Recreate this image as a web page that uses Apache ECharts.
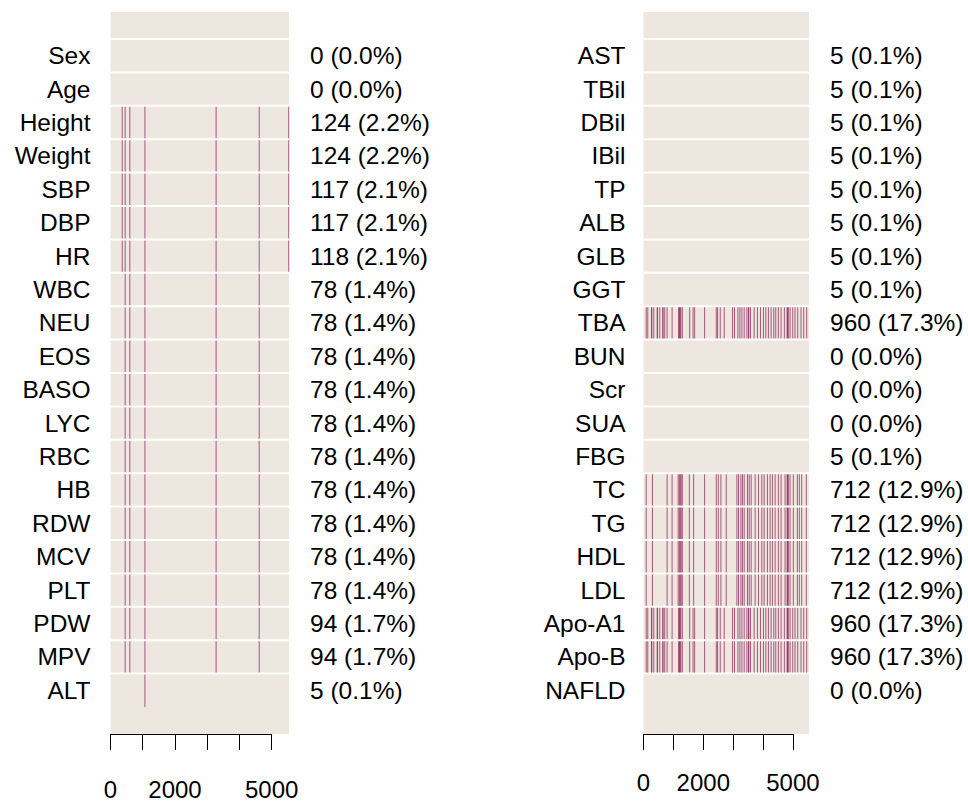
<!DOCTYPE html>
<html><head><meta charset="utf-8">
<script src="https://cdn.jsdelivr.net/npm/echarts@6/dist/echarts.min.js"></script>
<style>html,body{margin:0;padding:0;background:#fff}#c{width:968px;height:802px}</style>
</head><body><div id="c"></div>
<script>
// ---------------- data ----------------
const nObs = 5537;

const leftVars = ['Sex','Age','Height','Weight','SBP','DBP','HR','WBC','NEU','EOS','BASO','LYC','RBC','HB','RDW','MCV','PLT','PDW','MPV','ALT'];
const leftCounts = ['0 (0.0%)','0 (0.0%)','124 (2.2%)','124 (2.2%)','117 (2.1%)','117 (2.1%)','118 (2.1%)',
  '78 (1.4%)','78 (1.4%)','78 (1.4%)','78 (1.4%)','78 (1.4%)','78 (1.4%)','78 (1.4%)','78 (1.4%)','78 (1.4%)','78 (1.4%)',
  '94 (1.7%)','94 (1.7%)','5 (0.1%)'];

const rightVars = ['AST','TBil','DBil','IBil','TP','ALB','GLB','GGT','TBA','BUN','Scr','SUA','FBG','TC','TG','HDL','LDL','Apo-A1','Apo-B','NAFLD'];
const rightCounts = ['5 (0.1%)','5 (0.1%)','5 (0.1%)','5 (0.1%)','5 (0.1%)','5 (0.1%)','5 (0.1%)','5 (0.1%)',
  '960 (17.3%)','0 (0.0%)','0 (0.0%)','0 (0.0%)','5 (0.1%)',
  '712 (12.9%)','712 (12.9%)','712 (12.9%)','712 (12.9%)','960 (17.3%)','960 (17.3%)','0 (0.0%)'];

// observation indices (row numbers) where values are missing, by pattern
const anthroMissing = [364, 455, 600, 1067, 3276, 4613, 5528];
const bloodMissing  = [455, 600, 1067, 3276, 4613];
const altMissing    = [1067];
const tbaMissing = [90, 143, 267, 280, 344, 457, 470, 544, 644, 656, 710, 790, 957, 1177, 1192, 1210, 1228, 1250, 1300,
  1544, 1658, 1711, 2045, 2435, 2478, 2568, 2700, 2979, 3045, 3159, 3225, 3292, 3369, 3459, 3512, 3524, 3579, 3702,
  3812, 3913, 4013, 4093, 4179, 4269, 4359, 4426, 4513, 4603, 4713, 4803, 4818, 4847, 4903, 4993, 5070, 5160, 5270, 5360, 5460];
const lipidMissing = [90, 300, 790, 957, 1160, 1200, 1232, 1260, 1300, 1534, 1678, 2045, 2435, 2502, 2590, 2768,
  3125, 3179, 3259, 3312, 3369, 3479, 3536, 3602, 3736, 3846, 3959, 4036, 4146, 4236, 4313, 4403, 4513, 4603, 4736,
  4803, 4818, 4847, 4903, 5013, 5147, 5213, 5293, 5447];
const none = [];

const leftRows = [none, none, anthroMissing, anthroMissing, anthroMissing, anthroMissing, anthroMissing,
  bloodMissing, bloodMissing, bloodMissing, bloodMissing, bloodMissing, bloodMissing, bloodMissing, bloodMissing,
  bloodMissing, bloodMissing, bloodMissing, bloodMissing, altMissing];
const rightRows = [none, none, none, none, none, none, none, none, tbaMissing, none, none, none, none,
  lipidMissing, lipidMissing, lipidMissing, lipidMissing, tbaMissing, tbaMissing, none];

const xTickLabels = [0, 2000, 5000];

// ---------------- chart ----------------
const FONT = "'Liberation Sans', Arial, Helvetica, sans-serif";
const BG = '#EDE7DF';
const MISS = '#8C2254';
const pad = 0.808;

const grid = [], xAxis = [], yAxis = [], series = [];

function panel(cfg) {
  const nRows = cfg.names.length;
  // background grid
  const gA = grid.length;
  grid.push({left: cfg.gx, top: 12, width: cfg.gw, height: 722, show: true, backgroundColor: BG, borderWidth: 0});
  const xA = xAxis.length; xAxis.push({gridIndex: gA, type: 'value', min: 0, max: nObs, show: false});
  const yA = yAxis.length; yAxis.push({gridIndex: gA, type: 'value', min: -pad, max: nRows + pad, inverse: true, show: false});

  const missData = [];
  cfg.rows.forEach((arr, r) => arr.forEach(v => missData.push([v, r])));
  series.push({
    type: 'custom', xAxisIndex: xA, yAxisIndex: yA, silent: true, data: missData,
    renderItem: (params, api) => {
      const a = api.coord([api.value(0), api.value(1)]);
      const b = api.coord([api.value(0), api.value(1) + 1]);
      return {type: 'line', shape: {x1: a[0], y1: a[1], x2: b[0], y2: b[1]}, style: {stroke: MISS, lineWidth: 1, opacity: 0.72}};
    }
  });
  series.push({
    type: 'custom', xAxisIndex: xA, yAxisIndex: yA, silent: true,
    data: cfg.names.map((_, i) => [0, i]),
    renderItem: (params, api) => {
      const a = api.coord([0, api.value(1)]);
      const b = api.coord([nObs, api.value(1)]);
      return {type: 'line', shape: {x1: a[0], y1: a[1], x2: b[0], y2: b[1]}, style: {stroke: '#fff', lineWidth: 2}};
    }
  });

  // label grid
  const gB = grid.length;
  grid.push({left: cfg.gx, top: 39, width: cfg.gw, height: 668});
  xAxis.push({gridIndex: gB, type: 'value', show: false});
  const lab = (margin) => ({interval: 0, margin, color: '#000', fontFamily: FONT, fontSize: 24.5});
  yAxis.push({gridIndex: gB, type: 'category', data: cfg.names, inverse: true, position: 'left',
    axisLine: {show: false}, axisTick: {show: false}, splitLine: {show: false}, axisLabel: lab(cfg.nameMargin)});
  yAxis.push({gridIndex: gB, type: 'category', data: cfg.counts, inverse: true, position: 'right',
    axisLine: {show: false}, axisTick: {show: false}, splitLine: {show: false},
    axisLabel: Object.assign(lab(cfg.countMargin), {align: 'left'})});

  // x axis grid
  const gC = grid.length;
  grid.push({left: cfg.gx, top: 700, width: cfg.gw * 5000 / nObs, height: 34});
  xAxis.push({gridIndex: gC, type: 'value', min: 0, max: 5000, interval: 1000, position: 'bottom',
    axisLine: {show: true, lineStyle: {color: '#000', width: 1}},
    axisTick: {show: true, inside: false, length: 16, lineStyle: {color: '#000', width: 1}},
    splitLine: {show: false},
    axisLabel: {show: true, margin: cfg.xMargin, color: '#000', fontFamily: FONT, fontSize: 24, hideOverlap: false,
      formatter: v => xTickLabels.includes(v) ? String(v) : ''}});
  yAxis.push({gridIndex: gC, type: 'value', show: false});
}

panel({gx: 110.5, gw: 178.5, names: leftVars, counts: leftCounts, rows: leftRows, nameMargin: 20, countMargin: 21, xMargin: 43});
panel({gx: 643.5, gw: 165.5, names: rightVars, counts: rightCounts, rows: rightRows, nameMargin: 18, countMargin: 21, xMargin: 36});

const chart = echarts.init(document.getElementById('c'), null, {renderer: 'svg'});
chart.setOption({animation: false, backgroundColor: '#fff', grid, xAxis, yAxis, series});
</script>
</body></html>
